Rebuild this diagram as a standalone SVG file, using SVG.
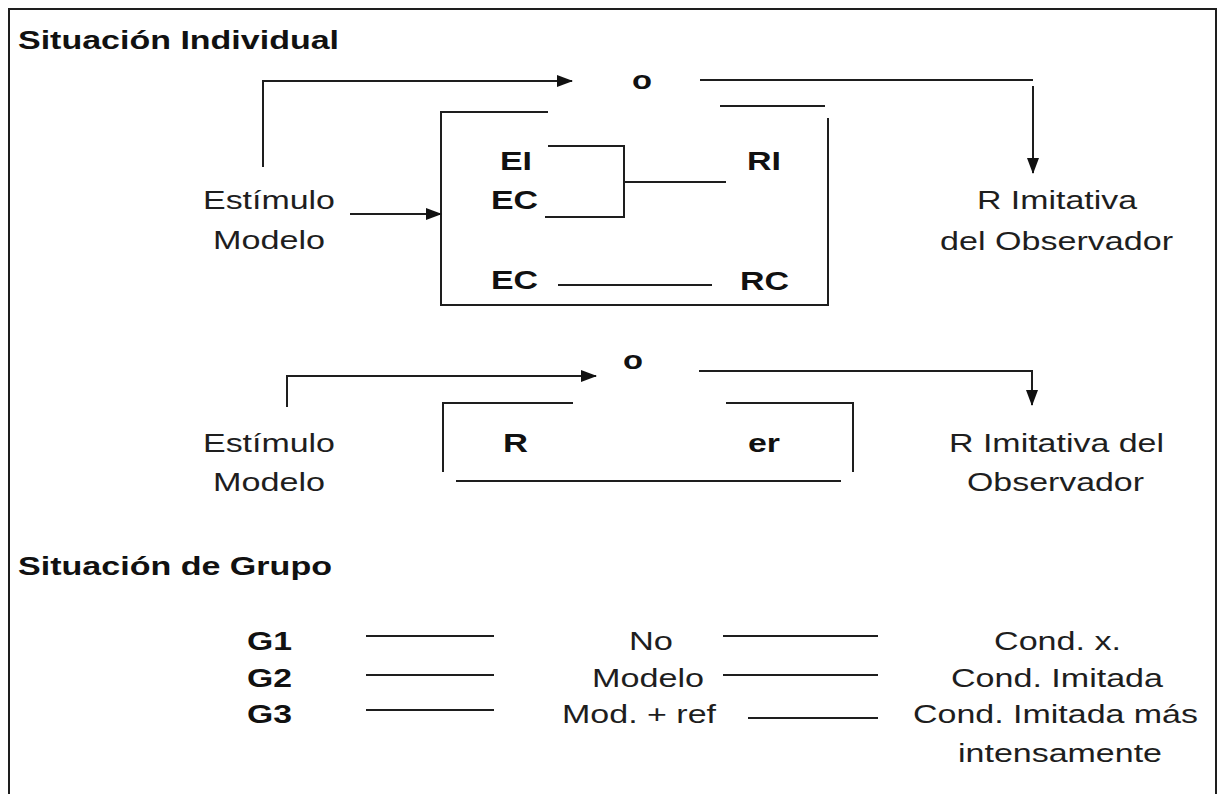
<svg xmlns="http://www.w3.org/2000/svg" width="1218" height="794" viewBox="0 0 1218 794">
<defs>
<style>
.t{font-family:"Liberation Sans",Arial,sans-serif;font-size:25px;fill:#1e1e1e;}
.b{font-family:"Liberation Sans",Arial,sans-serif;font-size:25px;font-weight:bold;fill:#111;}
.ln{stroke:#1e1e1e;stroke-width:2;fill:none;}
</style>
<marker id="ah" markerUnits="userSpaceOnUse" markerWidth="16" markerHeight="12" refX="15" refY="6" orient="auto">
<path d="M0,0 L16,6 L0,12 Z" fill="#111"/>
</marker>
</defs>
<rect width="1218" height="794" fill="#fff"/>
<path class="ln" d="M9,794 V9 H1216 V794"/>

<g id="title-individual"><text class="b" x="18" y="49" textLength="321" lengthAdjust="spacingAndGlyphs">Situación Individual</text></g>

<g id="estimulo1"><text class="t" x="203" y="209" textLength="132" lengthAdjust="spacingAndGlyphs">Estímulo</text><text class="t" x="213" y="249" textLength="112" lengthAdjust="spacingAndGlyphs">Modelo</text></g>
<g id="o1"><text class="b" x="632" y="89" textLength="20" lengthAdjust="spacingAndGlyphs">o</text></g>
<g id="box1">
<path class="ln" d="M548,112 H441 V305 H828 V118"/>
<path class="ln" d="M720,106 H825"/>
<text class="b" x="500" y="170" textLength="32" lengthAdjust="spacingAndGlyphs">EI</text>
<text class="b" x="491" y="209" textLength="47" lengthAdjust="spacingAndGlyphs">EC</text>
<text class="b" x="747" y="170" textLength="34" lengthAdjust="spacingAndGlyphs">RI</text>
<text class="b" x="491" y="289" textLength="47" lengthAdjust="spacingAndGlyphs">EC</text>
<text class="b" x="740" y="290" textLength="49" lengthAdjust="spacingAndGlyphs">RC</text>
</g>
<g id="resp1"><text class="t" x="977" y="209" textLength="160" lengthAdjust="spacingAndGlyphs">R Imitativa</text><text class="t" x="940" y="250" textLength="233" lengthAdjust="spacingAndGlyphs">del Observador</text></g>

<g id="estimulo2"><text class="t" x="203" y="452" textLength="132" lengthAdjust="spacingAndGlyphs">Estímulo</text><text class="t" x="213" y="491" textLength="112" lengthAdjust="spacingAndGlyphs">Modelo</text></g>
<g id="o2"><text class="b" x="623" y="369" textLength="20" lengthAdjust="spacingAndGlyphs">o</text></g>
<g id="box2">
<path class="ln" d="M573,403 H443 V472"/>
<path class="ln" d="M726,403 H853 V472"/>
<path class="ln" d="M456,481 H841"/>
<text class="b" x="503" y="452" textLength="25" lengthAdjust="spacingAndGlyphs">R</text>
<text class="b" x="748" y="452" textLength="32" lengthAdjust="spacingAndGlyphs">er</text>
</g>
<g id="resp2"><text class="t" x="949" y="452" textLength="215" lengthAdjust="spacingAndGlyphs">R Imitativa del</text><text class="t" x="967" y="491" textLength="177" lengthAdjust="spacingAndGlyphs">Observador</text></g>

<g id="title-grupo"><text class="b" x="18" y="575" textLength="314" lengthAdjust="spacingAndGlyphs">Situación de Grupo</text></g>
<g id="g1"><text class="b" x="247" y="650" textLength="45" lengthAdjust="spacingAndGlyphs">G1</text><text class="t" x="629" y="650" textLength="44" lengthAdjust="spacingAndGlyphs">No</text><text class="t" x="994" y="650" textLength="127" lengthAdjust="spacingAndGlyphs">Cond. x.</text></g>
<g id="g2"><text class="b" x="247" y="687" textLength="45" lengthAdjust="spacingAndGlyphs">G2</text><text class="t" x="592" y="687" textLength="112" lengthAdjust="spacingAndGlyphs">Modelo</text><text class="t" x="951" y="687" textLength="212" lengthAdjust="spacingAndGlyphs">Cond. Imitada</text></g>
<g id="g3"><text class="b" x="247" y="723" textLength="45" lengthAdjust="spacingAndGlyphs">G3</text><text class="t" x="562" y="723" textLength="154" lengthAdjust="spacingAndGlyphs">Mod. + ref</text><text class="t" x="913" y="723" textLength="285" lengthAdjust="spacingAndGlyphs">Cond. Imitada más</text><text class="t" x="958" y="762" textLength="204" lengthAdjust="spacingAndGlyphs">intensamente</text></g>

<g id="connectors">
<path class="ln" d="M263,167 V81 H572" marker-end="url(#ah)"/>
<path class="ln" d="M700,80 H1033"/>
<path class="ln" d="M1033,86 V173" marker-end="url(#ah)"/>
<path class="ln" d="M350,214 H441" marker-end="url(#ah)"/>
<path class="ln" d="M548,146 H624 V217 H545"/>
<path class="ln" d="M624,182 H726"/>
<path class="ln" d="M558,285 H712"/>
<path class="ln" d="M287,407 V376 H596" marker-end="url(#ah)"/>
<path class="ln" d="M699,371 H1032 V405" marker-end="url(#ah)"/>
<path class="ln" d="M366,636 H494"/>
<path class="ln" d="M366,675 H494"/>
<path class="ln" d="M366,710 H494"/>
<path class="ln" d="M723,636 H878"/>
<path class="ln" d="M723,675 H878"/>
<path class="ln" d="M748,718 H878"/>
</g>
</svg>
